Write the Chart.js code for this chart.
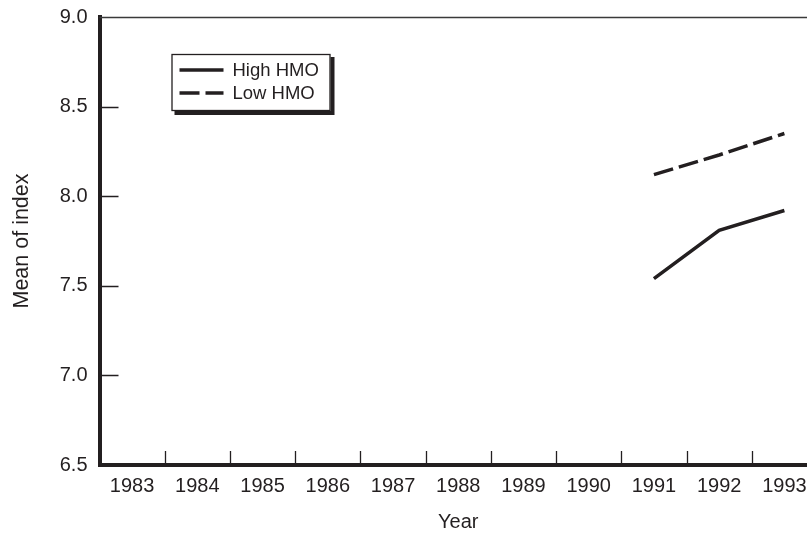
<!DOCTYPE html>
<html>
<head>
<meta charset="utf-8">
<title>Mean of index by year</title>
<script src="https://cdn.jsdelivr.net/npm/chart.js@4.4.1/dist/chart.umd.min.js"></script>
<style>
    html, body { margin: 0; padding: 0; background: #ffffff; overflow: hidden; }
    #wrap { position: absolute; left: 0; top: 0; width: 830px; height: 541px; }
</style>
</head>
<body>
<div id="wrap"><canvas id="index-chart"></canvas></div>
<script>
var years = ["1983", "1984", "1985", "1986", "1987", "1988", "1989", "1990", "1991", "1992", "1993"];
var highHmo = [null, null, null, null, null, null, null, null, 7.54, 7.81, 7.92];
var lowHmo = [null, null, null, null, null, null, null, null, 8.12, 8.23, 8.35];
var yTicks = [6.5, 7.0, 7.5, 8.0, 8.5, 9.0];

var INK = "#231f20";
var FONT = "'Liberation Sans', Arial, Helvetica, sans-serif";

// inward tick marks, the thin top rule and the boxed key
var framePlugin = {
    id: "frame",
    afterDraw: function (chart) {
        var ctx = chart.ctx;
        var area = chart.chartArea;
        var xs = chart.scales.x;
        var ys = chart.scales.y;
        var i;

        ctx.save();
        ctx.strokeStyle = "#3a3a3a";
        ctx.lineWidth = 1.3;
        ctx.beginPath();
        ctx.moveTo(area.left, area.top + 0.5);
        ctx.lineTo(area.right, area.top + 0.5);
        ctx.stroke();

        ctx.strokeStyle = INK;
        ctx.lineWidth = 1.3;
        ctx.beginPath();
        for (i = 1; i < years.length; i++) {
            var tx = Math.round(xs.getPixelForValue(i - 0.5)) + 0.5;
            ctx.moveTo(tx, area.bottom);
            ctx.lineTo(tx, area.bottom - 14);
        }
        yTicks.forEach(function (v) {
            if (v === ys.min || v === ys.max) return;
            var ty = Math.round(ys.getPixelForValue(v)) + 0.5;
            ctx.moveTo(area.left, ty);
            ctx.lineTo(area.left + 19, ty);
        });
        ctx.stroke();

        // key box with drop shadow
        var bx = area.left + 72, by = area.top + 37, bw = 159, bh = 57;
        ctx.fillStyle = INK;
        ctx.fillRect(bx + 3, by + 3, bw + 1, bh + 1);
        ctx.fillStyle = "#ffffff";
        ctx.fillRect(bx, by, bw, bh);
        ctx.strokeStyle = INK;
        ctx.lineWidth = 1.3;
        ctx.strokeRect(bx + 0.5, by + 0.5, bw - 1, bh - 1);

        ctx.font = "18.5px " + FONT;
        ctx.textBaseline = "middle";
        ctx.textAlign = "left";
        chart.data.datasets.forEach(function (ds, k) {
            var ly = by + 16 + k * 23;
            ctx.strokeStyle = INK;
            ctx.lineWidth = 3.3;
            ctx.setLineDash(ds.borderDash || []);
            ctx.beginPath();
            ctx.moveTo(bx + 8, ly);
            ctx.lineTo(bx + 52, ly);
            ctx.stroke();
            ctx.setLineDash([]);
            ctx.fillStyle = INK;
            ctx.fillText(ds.label, bx + 61, ly + 1);
        });
        ctx.restore();
    }
};

var chart = new Chart(document.getElementById("index-chart"), {
    type: "line",
    data: {
        labels: years,
        datasets: [
            {
                label: "High HMO",
                data: highHmo,
                borderColor: INK,
                borderWidth: 3.5,
                pointRadius: 0,
                tension: 0,
                fill: false
            },
            {
                label: "Low HMO",
                data: lowHmo,
                borderColor: INK,
                borderWidth: 3.5,
                borderDash: [20, 6],
                pointRadius: 0,
                tension: 0,
                fill: false
            }
        ]
    },
    options: {
        responsive: true,
        maintainAspectRatio: false,
        animation: false,
        layout: { padding: { left: 0, right: 13, top: 17, bottom: 0 } },
        plugins: {
            legend: { display: false },
            tooltip: { enabled: false }
        },
        scales: {
            x: {
                type: "category",
                offset: true,
                grid: { display: false, drawTicks: false, offset: true },
                border: { display: true, color: INK, width: 4 },
                ticks: {
                    color: INK,
                    padding: 9,
                    maxRotation: 0,
                    autoSkip: false,
                    font: { family: FONT, size: 20 }
                },
                title: {
                    display: true,
                    text: "Year",
                    color: INK,
                    padding: { top: 0, bottom: 7 },
                    font: { family: FONT, size: 20 }
                },
                afterFit: function (s) {
                    s.height = 76;
                    s.paddingLeft = 0;
                    s.paddingRight = 0;
                }
            },
            y: {
                min: 6.5,
                max: 9.0,
                afterBuildTicks: function (s) {
                    s.ticks = yTicks.map(function (v) { return { value: v }; });
                },
                grid: { display: false, drawTicks: false },
                border: { display: true, color: INK, width: 4 },
                ticks: {
                    color: INK,
                    padding: 12,
                    font: { family: FONT, size: 20 },
                    callback: function (v) { return Number(v).toFixed(1); }
                },
                title: {
                    display: true,
                    text: "Mean of index",
                    color: INK,
                    padding: { top: 9, bottom: 0 },
                    font: { family: FONT, size: 21.5 }
                },
                afterFit: function (s) {
                    s.width = 99.5;
                    s.paddingTop = 0;
                    s.paddingBottom = 0;
                }
            }
        }
    },
    plugins: [framePlugin]
});
</script>
</body>
</html>
